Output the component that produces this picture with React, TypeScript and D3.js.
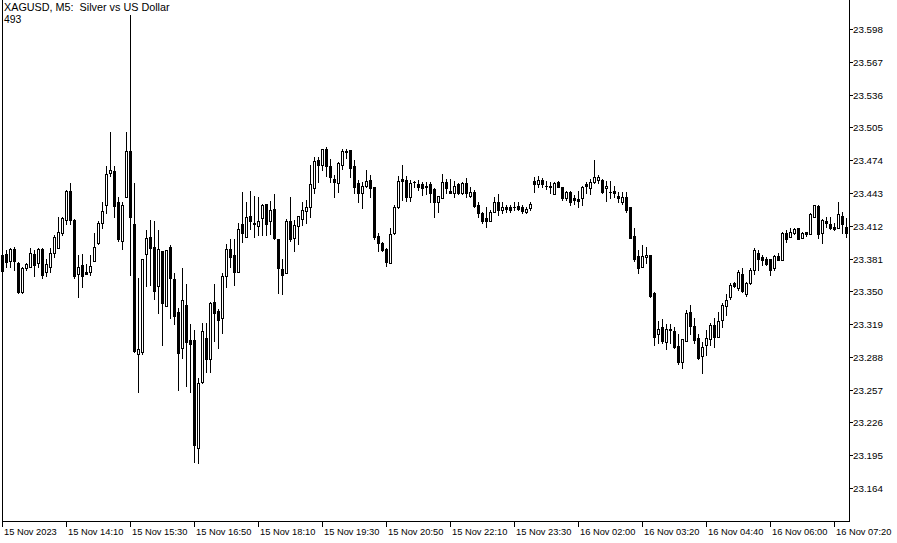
import React from 'react';
import * as d3 from 'd3';

// XAGUSD M5 candles, 15 Nov 2023 12:50 .. 16 Nov 07:35
const opens = [
  23.384, 23.385, 23.379, 23.390, 23.377, 23.349, 23.372, 23.373, 23.385, 23.377, 23.390, 23.368, 23.373, 23.386, 23.391, 23.405,
  23.417, 23.445, 23.417, 23.366, 23.375, 23.368, 23.368, 23.379, 23.396, 23.415, 23.432, 23.462, 23.464, 23.434, 23.398, 23.439,
  23.483, 23.414, 23.291, 23.293, 23.385, 23.401, 23.392, 23.355, 23.388, 23.336, 23.392, 23.362, 23.330, 23.296, 23.337, 23.304,
  23.304, 23.202, 23.264, 23.306, 23.286, 23.340, 23.331, 23.325, 23.364, 23.390, 23.384, 23.368, 23.414, 23.401, 23.421, 23.415,
  23.412, 23.419, 23.433, 23.416, 23.428, 23.399, 23.371, 23.367, 23.416, 23.400, 23.412, 23.418, 23.426, 23.430, 23.448, 23.474,
  23.469, 23.485, 23.468, 23.456, 23.452, 23.469, 23.483, 23.484, 23.468, 23.452, 23.443, 23.450, 23.455, 23.449, 23.402, 23.396,
  23.390, 23.377, 23.405, 23.430, 23.456, 23.455, 23.439, 23.453, 23.451, 23.451, 23.450, 23.451, 23.447, 23.434, 23.438, 23.453,
  23.445, 23.443, 23.451, 23.443, 23.452, 23.440, 23.444, 23.432, 23.424, 23.419, 23.416, 23.425, 23.434, 23.427, 23.430, 23.430,
  23.430, 23.431, 23.430, 23.425, 23.429, 23.454, 23.451, 23.455, 23.450, 23.450, 23.442, 23.453, 23.449, 23.438, 23.444, 23.438,
  23.437, 23.438, 23.451, 23.448, 23.453, 23.455, 23.455, 23.448, 23.444, 23.445, 23.440, 23.434, 23.439, 23.430, 23.402, 23.383,
  23.373, 23.382, 23.384, 23.348, 23.310, 23.316, 23.302, 23.314, 23.312, 23.298, 23.283, 23.303, 23.330, 23.317, 23.306, 23.289,
  23.299, 23.305, 23.318, 23.307, 23.323, 23.336, 23.345, 23.358, 23.353, 23.366, 23.347, 23.358, 23.370, 23.386, 23.382, 23.381,
  23.381, 23.372, 23.383, 23.380, 23.405, 23.401, 23.405, 23.410, 23.400, 23.406, 23.404, 23.420, 23.431, 23.405, 23.416, 23.414,
  23.411, 23.410, 23.421, 23.411,
];
const highs = [
  23.389, 23.389, 23.391, 23.392, 23.378, 23.373, 23.377, 23.391, 23.389, 23.391, 23.391, 23.381, 23.391, 23.403, 23.420, 23.420,
  23.446, 23.452, 23.418, 23.384, 23.385, 23.376, 23.384, 23.405, 23.416, 23.434, 23.468, 23.501, 23.468, 23.439, 23.434, 23.501,
  23.611, 23.452, 23.363, 23.381, 23.408, 23.417, 23.416, 23.408, 23.388, 23.389, 23.394, 23.367, 23.334, 23.372, 23.357, 23.319,
  23.313, 23.268, 23.320, 23.320, 23.340, 23.357, 23.333, 23.367, 23.395, 23.399, 23.399, 23.415, 23.444, 23.434, 23.445, 23.440,
  23.439, 23.433, 23.433, 23.435, 23.442, 23.399, 23.381, 23.418, 23.439, 23.417, 23.421, 23.434, 23.436, 23.469, 23.477, 23.477,
  23.485, 23.486, 23.475, 23.460, 23.472, 23.485, 23.485, 23.484, 23.474, 23.455, 23.453, 23.465, 23.460, 23.449, 23.405, 23.397,
  23.391, 23.410, 23.432, 23.459, 23.469, 23.459, 23.455, 23.454, 23.455, 23.453, 23.453, 23.453, 23.448, 23.440, 23.461, 23.456,
  23.456, 23.454, 23.452, 23.453, 23.457, 23.449, 23.446, 23.434, 23.425, 23.430, 23.427, 23.439, 23.442, 23.434, 23.432, 23.432,
  23.434, 23.434, 23.432, 23.430, 23.434, 23.458, 23.459, 23.457, 23.454, 23.453, 23.453, 23.454, 23.449, 23.445, 23.445, 23.441,
  23.445, 23.450, 23.453, 23.456, 23.474, 23.460, 23.456, 23.454, 23.454, 23.450, 23.444, 23.444, 23.444, 23.430, 23.410, 23.389,
  23.394, 23.392, 23.384, 23.349, 23.322, 23.324, 23.319, 23.319, 23.316, 23.310, 23.305, 23.332, 23.337, 23.325, 23.310, 23.302,
  23.313, 23.320, 23.325, 23.330, 23.339, 23.347, 23.358, 23.359, 23.370, 23.372, 23.359, 23.372, 23.391, 23.389, 23.384, 23.382,
  23.381, 23.384, 23.386, 23.406, 23.408, 23.410, 23.410, 23.410, 23.406, 23.406, 23.424, 23.432, 23.432, 23.418, 23.420, 23.420,
  23.415, 23.434, 23.425, 23.419,
];
const lows = [
  23.366, 23.373, 23.373, 23.370, 23.348, 23.348, 23.370, 23.373, 23.364, 23.373, 23.363, 23.364, 23.368, 23.382, 23.391, 23.403,
  23.414, 23.414, 23.363, 23.345, 23.354, 23.366, 23.365, 23.379, 23.395, 23.410, 23.424, 23.459, 23.420, 23.398, 23.390, 23.439,
  23.365, 23.293, 23.255, 23.291, 23.355, 23.356, 23.343, 23.329, 23.299, 23.336, 23.325, 23.319, 23.257, 23.287, 23.260, 23.255,
  23.189, 23.188, 23.263, 23.274, 23.274, 23.303, 23.296, 23.311, 23.354, 23.373, 23.356, 23.368, 23.397, 23.401, 23.409, 23.401,
  23.403, 23.403, 23.403, 23.404, 23.399, 23.348, 23.347, 23.367, 23.398, 23.388, 23.395, 23.413, 23.415, 23.420, 23.443, 23.453,
  23.465, 23.459, 23.453, 23.439, 23.444, 23.466, 23.476, 23.458, 23.443, 23.434, 23.429, 23.449, 23.439, 23.399, 23.388, 23.388,
  23.374, 23.377, 23.404, 23.429, 23.436, 23.435, 23.435, 23.449, 23.446, 23.441, 23.442, 23.434, 23.420, 23.425, 23.438, 23.443,
  23.443, 23.439, 23.442, 23.442, 23.439, 23.439, 23.430, 23.420, 23.415, 23.411, 23.416, 23.425, 23.422, 23.424, 23.425, 23.425,
  23.427, 23.427, 23.424, 23.424, 23.427, 23.444, 23.449, 23.449, 23.447, 23.443, 23.442, 23.449, 23.436, 23.436, 23.432, 23.433,
  23.430, 23.432, 23.443, 23.442, 23.452, 23.452, 23.443, 23.435, 23.438, 23.439, 23.434, 23.433, 23.425, 23.400, 23.379, 23.367,
  23.373, 23.377, 23.345, 23.299, 23.301, 23.301, 23.295, 23.301, 23.296, 23.281, 23.277, 23.303, 23.310, 23.301, 23.286, 23.273,
  23.290, 23.299, 23.297, 23.307, 23.316, 23.328, 23.343, 23.354, 23.351, 23.349, 23.346, 23.357, 23.366, 23.370, 23.375, 23.375,
  23.365, 23.370, 23.380, 23.380, 23.397, 23.401, 23.404, 23.399, 23.400, 23.402, 23.404, 23.420, 23.400, 23.396, 23.411, 23.409,
  23.408, 23.410, 23.405, 23.401,
];
const closes = [
  23.369, 23.378, 23.390, 23.379, 23.349, 23.372, 23.376, 23.386, 23.375, 23.390, 23.365, 23.376, 23.386, 23.401, 23.406, 23.419,
  23.445, 23.417, 23.364, 23.373, 23.364, 23.366, 23.374, 23.392, 23.415, 23.426, 23.461, 23.465, 23.431, 23.399, 23.432, 23.483,
  23.420, 23.294, 23.295, 23.381, 23.400, 23.391, 23.350, 23.390, 23.339, 23.389, 23.363, 23.327, 23.292, 23.342, 23.302, 23.300,
  23.205, 23.263, 23.312, 23.286, 23.339, 23.329, 23.323, 23.364, 23.390, 23.382, 23.368, 23.409, 23.405, 23.420, 23.416, 23.414,
  23.416, 23.432, 23.414, 23.427, 23.400, 23.372, 23.365, 23.416, 23.399, 23.413, 23.421, 23.427, 23.430, 23.451, 23.473, 23.469,
  23.485, 23.468, 23.458, 23.453, 23.471, 23.483, 23.482, 23.467, 23.449, 23.443, 23.450, 23.454, 23.448, 23.401, 23.396, 23.389,
  23.378, 23.404, 23.430, 23.454, 23.454, 23.439, 23.452, 23.453, 23.449, 23.448, 23.449, 23.443, 23.434, 23.440, 23.453, 23.448,
  23.443, 23.450, 23.443, 23.452, 23.443, 23.444, 23.431, 23.424, 23.416, 23.416, 23.425, 23.434, 23.427, 23.430, 23.428, 23.427,
  23.430, 23.428, 23.426, 23.428, 23.433, 23.451, 23.455, 23.451, 23.450, 23.449, 23.452, 23.449, 23.438, 23.444, 23.434, 23.436,
  23.435, 23.449, 23.450, 23.453, 23.458, 23.458, 23.444, 23.450, 23.444, 23.443, 23.438, 23.439, 23.427, 23.400, 23.381, 23.372,
  23.383, 23.384, 23.346, 23.307, 23.314, 23.303, 23.314, 23.313, 23.297, 23.283, 23.305, 23.329, 23.317, 23.304, 23.287, 23.297,
  23.306, 23.318, 23.307, 23.322, 23.337, 23.342, 23.356, 23.355, 23.368, 23.350, 23.358, 23.370, 23.389, 23.381, 23.380, 23.376,
  23.370, 23.383, 23.380, 23.405, 23.399, 23.406, 23.409, 23.399, 23.405, 23.404, 23.423, 23.432, 23.404, 23.417, 23.415, 23.410,
  23.409, 23.423, 23.414, 23.405,
];

const priceTicks = [
  23.164, 23.195, 23.226, 23.257, 23.288, 23.319, 23.350, 23.381,
  23.412, 23.443, 23.474, 23.505, 23.536, 23.567, 23.598,
];
// one time label every 16 bars
const timeLabels = [
  '15 Nov 2023', '15 Nov 14:10', '15 Nov 15:30', '15 Nov 16:50', '15 Nov 18:10',
  '15 Nov 19:30', '15 Nov 20:50', '15 Nov 22:10', '15 Nov 23:30', '16 Nov 02:00',
  '16 Nov 03:20', '16 Nov 04:40', '16 Nov 06:00', '16 Nov 07:20',
];
const labelEvery = 16;

const W = 897;
const H = 543;
const frameRight = 849.5;
const frameBottom = 521.5;
const font = "Tahoma, 'Liberation Sans', Arial, sans-serif";

const App: React.FC = () => {
  const n = opens.length;
  const x = d3.scaleLinear().domain([0, n - 1]).range([2.5, 2.5 + 4 * (n - 1)]);
  const y = d3.scaleLinear().domain([23.164, 23.598]).range([488, 29]);
  const row = (p: number) => Math.round(y(p));

  return (
    <svg width={W} height={H} style={{ position: 'absolute', left: 0, top: 0, background: '#fff' }}
      fontFamily={font}>
      <rect x={0} y={0} width={W} height={H} fill="#fff" />

      {/* candles */}
      <g shapeRendering="crispEdges">
        {opens.map((o, i) => {
          const c = closes[i];
          const cx = x(i);
          const top = row(Math.max(o, c));
          const bot = row(Math.min(o, c));
          const bull = c > o;
          return (
            <g key={i}>
              <line x1={cx} x2={cx} y1={row(highs[i])} y2={row(lows[i]) + 1} stroke="#000" strokeWidth={1} />
              {bull ? (
                <rect x={cx - 1} y={top + 0.5} width={2} height={Math.max(1, bot - top)}
                  fill="#fff" stroke="#000" strokeWidth={1} />
              ) : (
                <rect x={cx - 1.5} y={top} width={3} height={Math.max(1, bot - top + 1)} fill="#000" />
              )}
            </g>
          );
        })}
      </g>

      {/* frame */}
      <g shapeRendering="crispEdges" stroke="#000" strokeWidth={1}>
        <line x1={2.5} x2={2.5} y1={0} y2={frameBottom + 0.5} />
        <line x1={frameRight} x2={frameRight} y1={0} y2={frameBottom + 0.5} />
        <line x1={2} x2={frameRight + 0.5} y1={frameBottom} y2={frameBottom} />
      </g>

      {/* price axis */}
      <g>
        {priceTicks.map((p) => (
          <g key={p}>
            <line x1={frameRight} x2={853} y1={row(p) + 0.5} y2={row(p) + 0.5} stroke="#000"
              shapeRendering="crispEdges" />
            <text x={853} y={row(p) + 4} fontSize={9.8} fill="#000">{p.toFixed(3)}</text>
          </g>
        ))}
      </g>

      {/* time axis */}
      <g>
        {timeLabels.map((t, k) => {
          const tx = x(k * labelEvery);
          return (
            <g key={t}>
              <line x1={tx} x2={tx} y1={frameBottom} y2={527} stroke="#000" shapeRendering="crispEdges" />
              <text x={tx + 1.5} y={535} fontSize={9.3} fill="#000">{t}</text>
            </g>
          );
        })}
      </g>

      {/* header */}
      <text x={4} y={10.5} fontSize={10.8} fill="#000" style={{ whiteSpace: 'pre' }}>
        {'XAGUSD, M5:  Silver vs US Dollar'}
      </text>
      <text x={4} y={23} fontSize={10.4} fill="#000">493</text>
    </svg>
  );
};

export default App;
